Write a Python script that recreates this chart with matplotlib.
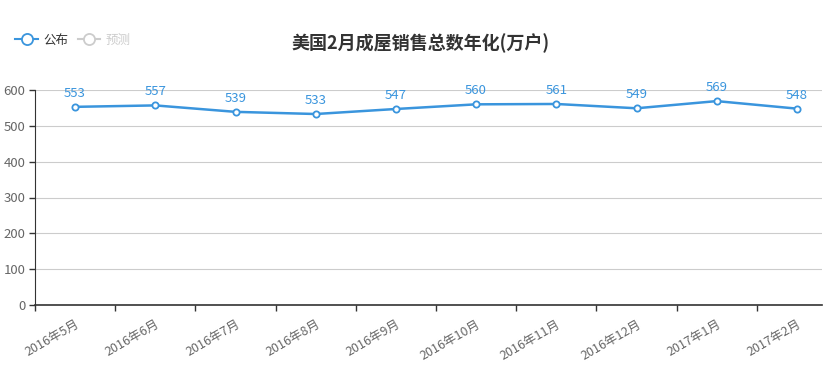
import matplotlib as mpl
mpl.use('Agg')
import matplotlib.pyplot as plt
from matplotlib.lines import Line2D

plt.rcParams['font.family'] = ['Noto Sans CJK SC', 'DejaVu Sans']

months = ['2016年5月', '2016年6月', '2016年7月', '2016年8月', '2016年9月',
          '2016年10月', '2016年11月', '2016年12月', '2017年1月', '2017年2月']
published = [553, 557, 539, 533, 547, 560, 561, 549, 569, 548]
yticks = [0, 100, 200, 300, 400, 500, 600]

LINE_COLOR = '#3a95dd'
AXIS_COLOR = '#333333'
TEXT_COLOR = '#666666'

W, H = 823, 370
fig = plt.figure(figsize=(W / 100, H / 100), dpi=100)
# plot area in pixels: x 35..822 (axis continues a bit past the image edge), y 90..305
left, right, top, bottom = 35, 822, 90, 305
ax = fig.add_axes([left / W, (H - bottom) / H, (right - left) / W, (bottom - top) / H])

step = 80.2
x = list(range(len(months)))
ax.plot(x, published, color=LINE_COLOR, lw=1.8, marker='o', ms=4.5,
        mfc='white', mec=LINE_COLOR, mew=1.3, zorder=3, clip_on=False)
for xi, v in zip(x, published):
    ax.annotate(str(v), (xi, v), xytext=(0, 5), textcoords='offset points',
                ha='center', va='bottom', color=LINE_COLOR, fontsize=9.5)

ax.set_yticks(yticks)
ax.set_yticklabels([str(t) for t in yticks], color=TEXT_COLOR, fontsize=9.5)
ax.grid(axis='y', color='#cccccc', lw=0.8)
ax.set_axisbelow(True)

# category boundary ticks
ax.set_xticks([i - 0.5 for i in range(len(months) + 1)])
ax.set_xticklabels([''] * (len(months) + 1))
ax.set_xlim(-0.5, 9.5 - (837 - right) / step)
ax.set_ylim(0, 600)
ax.tick_params(axis='x', length=4, color=AXIS_COLOR, width=1)
ax.tick_params(axis='y', length=4, color=AXIS_COLOR, width=1, pad=3)
for xi, lab in zip(x, months):
    ax.annotate(lab, (xi, 0), xytext=(0, -9), textcoords='offset points',
                ha='right', va='top', rotation=30, rotation_mode='anchor',
                color=TEXT_COLOR, fontsize=9, annotation_clip=False)

for side in ['top', 'right']:
    ax.spines[side].set_visible(False)
ax.spines['left'].set_color(AXIS_COLOR)
ax.spines['bottom'].set_color(AXIS_COLOR)
ax.spines['bottom'].set_linewidth(1.2)

fig.text(421 / W, 1 - 43 / H, '美国2月成屋销售总数年化(万户)', ha='center', va='center',
         fontsize=13, fontweight='bold', color='#333333')

handles = [Line2D([], [], color=LINE_COLOR, marker='o', ms=8, mfc='white', mew=1.3),
           Line2D([], [], color='#cccccc', marker='o', ms=8, mfc='white', mew=1.3)]
leg = fig.legend(handles, ['公布', '预测'], loc='center left', bbox_to_anchor=(0.005, 1 - 40 / H),
                 ncol=2, frameon=False, fontsize=9, handlelength=1.8, handletextpad=0.4,
                 columnspacing=0.8)
leg.get_texts()[0].set_color('#333333')
leg.get_texts()[1].set_color('#cccccc')

fig.savefig('out.png', dpi=100)
